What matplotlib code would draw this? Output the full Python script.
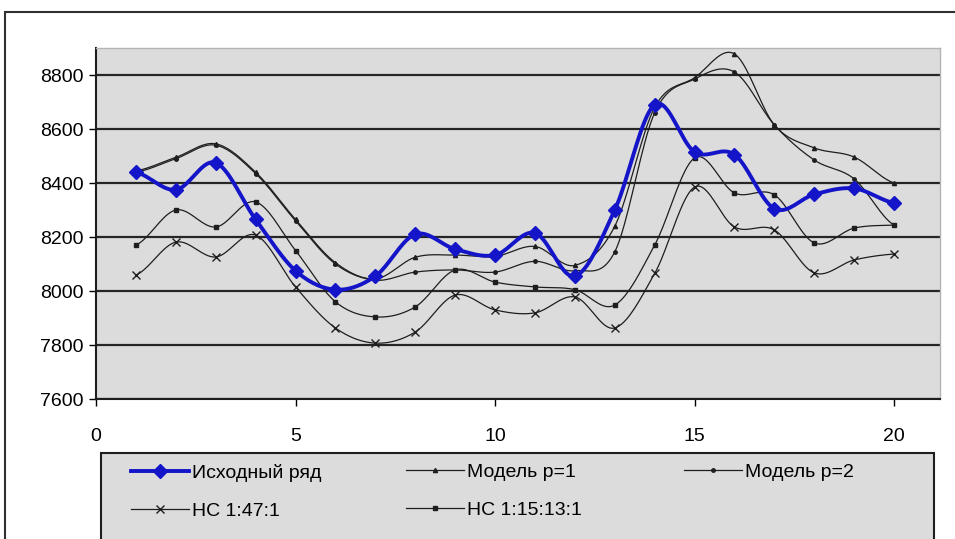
import matplotlib
matplotlib.use("Agg")
import matplotlib.pyplot as plt
from matplotlib.lines import Line2D
from matplotlib.patches import Rectangle
import numpy as np

# Данные
x = np.arange(1, 21)
ishodny = [8440, 8375, 8475, 8265, 8075, 8005, 8055, 8210, 8155, 8133,
           8215, 8055, 8300, 8690, 8515, 8505, 8305, 8358, 8380, 8326]
model_p1 = [8445, 8495, 8545, 8440, 8265, 8105, 8045, 8125, 8133, 8128,
            8165, 8095, 8240, 8680, 8790, 8878, 8615, 8530, 8496, 8400]
model_p2 = [8440, 8490, 8540, 8435, 8260, 8100, 8040, 8070, 8078, 8070,
            8110, 8075, 8145, 8660, 8785, 8811, 8615, 8485, 8415, 8244]
ns_1_47_1 = [8059, 8181, 8126, 8207, 8015, 7863, 7807, 7848, 7985, 7930,
             7919, 7978, 7863, 8065, 8385, 8237, 8226, 8067, 8115, 8137]
ns_1_15_13_1 = [8170, 8300, 8237, 8330, 8150, 7960, 7904, 7941, 8078, 8033,
                8015, 8005, 7948, 8170, 8493, 8363, 8356, 8178, 8233, 8244]

yticks = [7600, 7800, 8000, 8200, 8400, 8600, 8800]
xticks = [0, 5, 10, 15, 20]

FONT = ["Liberation Sans Narrow", "Liberation Sans", "DejaVu Sans"]


def smooth(xs, ys, n=20):
    # сглаженная линия как в Excel (кривая Катмулла-Рома)
    xs = np.asarray(xs, float)
    ys = np.asarray(ys, float)
    px = np.concatenate([[2 * xs[0] - xs[1]], xs, [2 * xs[-1] - xs[-2]]])
    py = np.concatenate([[ys[0]], ys, [ys[-1]]])
    t = np.linspace(0, 1, n, endpoint=False)
    outx, outy = [], []
    for i in range(1, len(px) - 2):
        for p, out in ((px, outx), (py, outy)):
            p0, p1, p2, p3 = p[i - 1], p[i], p[i + 1], p[i + 2]
            out.extend(0.5 * ((2 * p1) + (-p0 + p2) * t
                              + (2 * p0 - 5 * p1 + 4 * p2 - p3) * t ** 2
                              + (-p0 + 3 * p1 - 3 * p2 + p3) * t ** 3))
    outx.append(xs[-1])
    outy.append(ys[-1])
    return np.array(outx), np.array(outy)


fig = plt.figure(figsize=(9.55, 5.39), dpi=100)
ax = fig.add_axes([96 / 955, 1 - 399 / 539, 844 / 955, 351 / 539])
ax.set_facecolor("#dcdcdc")

# внешняя рамка
fig.patches.append(Rectangle((5 / 955, -0.05), 1.2, 1 - 12 / 539 + 0.05,
                             transform=fig.transFigure, fill=False,
                             edgecolor="#303030", linewidth=1.5))

series = [
    (ishodny, "Исходный ряд", dict(color="#1414c8", lw=2.8), dict(marker="D", ms=7)),
    (model_p1, "Модель p=1", dict(color="#1e1e1e", lw=0.9), dict(marker="^", ms=3)),
    (model_p2, "Модель p=2", dict(color="#1e1e1e", lw=0.9), dict(marker="o", ms=2.5)),
    (ns_1_47_1, "НС 1:47:1", dict(color="#1e1e1e", lw=0.9), dict(marker="x", ms=6, mew=1)),
    (ns_1_15_13_1, "НС 1:15:13:1", dict(color="#1e1e1e", lw=0.9), dict(marker="s", ms=3.5)),
]

handles = {}
for ys, name, lstyle, mstyle in reversed(series):
    sx, sy = smooth(x, ys)
    ax.plot(sx, sy, zorder=3, **lstyle)
    ax.plot(x, ys, ls="none", color=lstyle["color"], zorder=4, **mstyle)
    handles[name] = Line2D([], [], **lstyle, **mstyle)

ax.set_xlim(0, 21.15)
ax.set_ylim(7600, 8900)
ax.set_xticks(xticks)
ax.set_yticks(yticks)
ax.yaxis.grid(True, color="#262626", linewidth=1.6)
ax.set_axisbelow(True)
ax.tick_params(axis="y", direction="out", length=5, width=1, pad=4)
ax.tick_params(axis="x", direction="out", length=5, width=1, pad=16)
for lab in ax.get_xticklabels() + ax.get_yticklabels():
    lab.set_family(FONT)
    lab.set_fontsize(14)
for s in ("left", "bottom"):
    ax.spines[s].set_color("#1e1e1e")
    ax.spines[s].set_linewidth(1.5)
for s in ("top", "right"):
    ax.spines[s].set_color("#b4b4b4")
    ax.spines[s].set_linewidth(1)

# легенда
fig.patches.append(Rectangle((101 / 955, -0.02), 833 / 955, 1 - 453 / 539 + 0.02,
                             transform=fig.transFigure, facecolor="#dcdcdc",
                             edgecolor="#1e1e1e", linewidth=1.5))
columns = [(["Исходный ряд", "НС 1:47:1"], 117),
           (["Модель p=1", "НС 1:15:13:1"], 392),
           (["Модель p=2"], 670)]
for names, left in columns:
    fig.legend([handles[n] for n in names], names, loc="upper left",
               bbox_to_anchor=(left / 955, 1 - 450 / 539), frameon=False,
               prop={"family": FONT, "size": 14}, handlelength=3.0,
               handletextpad=0.15, labelspacing=1.05, borderpad=0.2)

fig.savefig("out.png", dpi=100)
